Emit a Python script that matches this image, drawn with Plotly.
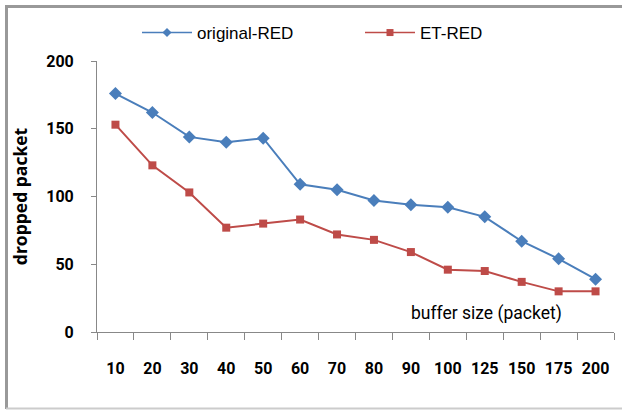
import plotly.graph_objects as go

categories = ["10", "20", "30", "40", "50", "60", "70", "80", "90", "100", "125", "150", "175", "200"]
original_red = [176, 162, 144, 140, 143, 109, 105, 97, 94, 92, 85, 67, 54, 39]
et_red = [153, 123, 103, 77, 80, 83, 72, 68, 59, 46, 45, 37, 30, 30]

TICKFONT = "Roboto, Open Sans"
LEGFONT = "Liberation Sans, Arial"
TITLEFONT = "Open Sans"

BLUE = "#4A7EBB"
RED = "#BE4B48"

fig = go.Figure()
fig.add_trace(go.Scatter(
    x=categories, y=original_red, name="original-RED", mode="lines+markers",
    line=dict(color=BLUE, width=2), showlegend=False,
    marker=dict(symbol="diamond", size=10, color=BLUE),
))
fig.add_trace(go.Scatter(
    x=categories, y=et_red, name="ET-RED", mode="lines+markers",
    line=dict(color=RED, width=2), showlegend=False,
    marker=dict(symbol="square", size=8, color=RED),
))
# legend entries with smaller symbols, as in the reference
fig.add_trace(go.Scatter(x=[None], y=[None], name="original-RED", mode="lines+markers",
                         line=dict(color=BLUE, width=1.5),
                         marker=dict(symbol="diamond", size=7, color=BLUE)))
fig.add_trace(go.Scatter(x=[None], y=[None], name="ET-RED", mode="lines+markers",
                         line=dict(color=RED, width=1.5),
                         marker=dict(symbol="square", size=7, color=RED)))

L, R, T, B = 97, 8, 61, 78
W, H = 622, 410
pw, ph = W - L - R, H - T - B


def px(p):
    return (p - L) / pw


def py(q):
    return (H - B - q) / ph


fig.update_layout(
    width=W, height=H,
    margin=dict(l=L, r=R, t=T, b=B, autoexpand=False),
    paper_bgcolor="white", plot_bgcolor="white",
    font=dict(family=TICKFONT, size=16, color="black"),
    showlegend=True,
    legend=dict(orientation="h", x=px(137), y=py(15), xanchor="left", yanchor="top",
                font=dict(family=LEGFONT, size=17), itemwidth=50, entrywidth=158,
                entrywidthmode="pixels", bgcolor="rgba(0,0,0,0)"),
    xaxis=dict(type="category", range=[-0.5, 13.5], showline=True, linecolor="#888888", linewidth=1,
               ticks="outside", ticklen=7, tickcolor="#888888", tickson="boundaries",
               ticklabelstandoff=22, showgrid=False, zeroline=False, tickangle=0,
               tickfont=dict(family=TICKFONT, size=16, weight="bold")),
    yaxis=dict(range=[0, 200], tickvals=[0, 50, 100, 150, 200], showline=True, linecolor="#888888",
               linewidth=1, ticks="outside", ticklen=5, tickcolor="#888888",
               showgrid=False, zeroline=False, ticklabelstandoff=14,
               tickfont=dict(family=TICKFONT, size=16, weight="bold"),
               title=dict(text="dropped packet", font=dict(family=TITLEFONT, size=17.5, weight="bold"),
                          standoff=14)),
    annotations=[dict(text="buffer size (packet)", xref="paper", yref="paper",
                      x=px(486), y=py(313), xanchor="center", yanchor="middle",
                      showarrow=False, font=dict(family=TICKFONT, size=17.5))],
    shapes=[
        dict(type="line", xref="paper", yref="paper", x0=px(6), x1=px(630), y0=py(6.5), y1=py(6.5),
             line=dict(color="#999999", width=3), layer="below"),
        dict(type="line", xref="paper", yref="paper", x0=px(6.5), x1=px(6.5), y0=py(5), y1=py(409),
             line=dict(color="#999999", width=3), layer="below"),
        dict(type="line", xref="paper", yref="paper", x0=px(6), x1=px(630), y0=py(408.5), y1=py(408.5),
             line=dict(color="#CCCCCC", width=2), layer="below"),
    ],
)

fig.write_html("out.html", config={"displayModeBar": False},
               post_script="document.body.style.margin='0';document.body.style.padding='0';")
